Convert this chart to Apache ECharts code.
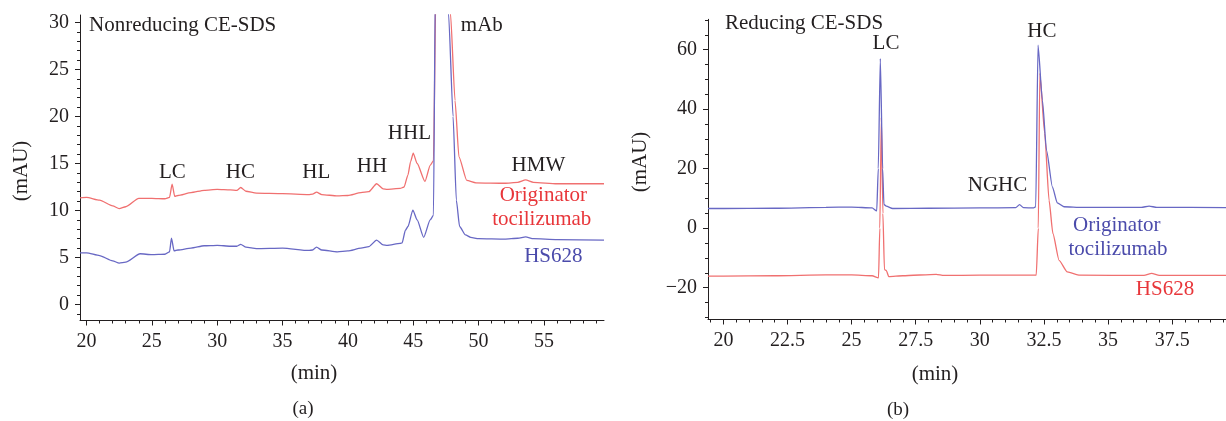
<!DOCTYPE html>
<html>
<head>
<meta charset="utf-8">
<script src="https://cdn.jsdelivr.net/npm/echarts@6/dist/echarts.min.js"></script>
<style>
html,body{margin:0;padding:0;background:#fff;}
#main{width:1226px;height:421px;}
</style>
</head>
<body>
<div id="main"></div>
<script>
// (a) Nonreducing CE-SDS — Originator tocilizumab (red) and HS628 (blue)
let nrOrigTime  = [19.5, 20, 21, 22, 22.5, 23, 24, 25, 26, 26.35, 26.55, 26.75, 27, 28, 29, 30, 31, 31.5, 31.8, 32.2, 33, 35, 37, 37.3, 37.6, 38, 39.2, 40, 41, 41.6, 42.2, 42.7, 43, 44, 44.3, 44.6, 44.8, 45.0, 45.3, 45.9, 46.3, 46.55, 46.75, 47.2, 47.85, 48.2, 48.5, 49.1, 49.8, 52, 53, 53.6, 54.2, 56, 59.6];
let nrOrigValue = [11.35, 11.4, 11.1, 10.5, 10.2, 10.4, 11.3, 11.3, 11.25, 11.4, 12.8, 11.5, 11.6, 11.9, 12.15, 12.25, 12.2, 12.15, 12.45, 12.05, 11.85, 11.8, 11.7, 11.75, 11.95, 11.7, 11.55, 11.6, 11.9, 12.0, 12.85, 12.3, 12.25, 12.35, 12.5, 13.8, 15.2, 16.1, 15.0, 13.1, 14.8, 15.3, 35, 200, 31, 21.7, 15.7, 13.2, 12.95, 12.9, 13.0, 13.25, 13.0, 12.85, 12.85];
let nrHsTime  = [19.5, 20, 21, 22, 22.5, 23, 24.1, 25, 26, 26.35, 26.5, 26.7, 27, 28, 29, 30, 31, 31.5, 31.8, 32.2, 33, 35, 37, 37.3, 37.6, 38, 39.2, 40, 41, 41.6, 42.2, 42.7, 43, 44, 44.15, 44.4, 44.6, 44.97, 45.3, 45.8, 46.3, 46.55, 46.7, 47.1, 47.7, 48.05, 48.3, 48.55, 49.0, 49.4, 50, 52, 53, 53.6, 54.2, 56, 59.6];
let nrHsValue = [5.5, 5.5, 5.2, 4.65, 4.4, 4.5, 5.4, 5.3, 5.35, 5.6, 7.05, 5.7, 5.8, 6.0, 6.25, 6.3, 6.2, 6.2, 6.4, 6.1, 5.95, 6.0, 5.75, 5.8, 6.1, 5.8, 5.6, 5.7, 6.0, 6.15, 6.85, 6.35, 6.3, 6.5, 6.55, 7.9, 8.3, 10.05, 9.0, 7.15, 9.0, 9.5, 35, 200, 31, 20, 11.1, 8.3, 7.4, 7.15, 7.0, 6.95, 7.05, 7.2, 7.0, 6.9, 6.85];

// (b) Reducing CE-SDS — Originator tocilizumab (blue) and HS628 (red)
let rOrigTime  = [19.4, 20, 22, 24, 25, 25.8, 25.98, 26.04, 26.12, 26.21, 26.26, 26.35, 26.6, 28, 30, 31.4, 31.55, 31.7, 32.1, 32.18, 32.27, 32.44, 32.6, 32.83, 33.02, 33.28, 34, 36.3, 36.6, 36.9, 39.6];
let rOrigValue = [6.6, 6.6, 6.7, 7.0, 7.1, 6.8, 5.8, 20, 57.0, 20, 8, 7.4, 6.6, 6.7, 6.8, 6.9, 7.9, 6.9, 6.8, 7.2, 61.5, 43, 26.2, 13.9, 8.5, 7.2, 7.0, 7.0, 7.4, 7.0, 6.9];
let rHsTime  = [19.4, 20, 22, 24, 25, 25.8, 26.05, 26.1, 26.16, 26.22, 26.28, 26.35, 26.45, 27, 28.3, 28.6, 30, 32.2, 32.28, 32.34, 32.53, 32.7, 32.85, 33.09, 33.41, 33.9, 36.4, 36.7, 37, 39.6];
let rHsValue = [-16.1, -16.1, -16.0, -15.7, -15.7, -16.0, -16.7, 0, 37.2, 5, -13.9, -14.2, -16.3, -16.0, -15.5, -15.9, -15.8, -15.8, 0, 52, 31.8, 9.4, -1.8, -10.8, -14.7, -15.8, -15.9, -15.2, -15.9, -15.9];

// tick labels
let nrXTicks = [20, 25, 30, 35, 40, 45, 50, 55];
let nrYTicks = [0, 5, 10, 15, 20, 25, 30];
let rXTicks = [20, 22.5, 25, 27.5, 30, 32.5, 35, 37.5];
let rYTicks = [-20, 0, 20, 40, 60];

// peak labels: [text, time, value, color]
let nrNotes = [
  ['LC', 26.57, 14.0, '#231f20'],
  ['HC', 31.77, 14.0, '#231f20'],
  ['HL', 37.58, 14.0, '#231f20'],
  ['HH', 41.84, 14.66, '#231f20'],
  ['HHL', 44.71, 18.2, '#231f20'],
  ['mAb', 50.25, 29.66, '#231f20'],
  ['HMW', 54.58, 14.74, '#231f20'],
  ['Originator', 54.96, 11.65, '#e8363a'],
  ['tocilizumab', 54.84, 9.0, '#e8363a'],
  ['HS628', 55.72, 5.09, '#4b4bab']
];
let rNotes = [
  ['LC', 26.34, 62.1, '#231f20'],
  ['HC', 32.42, 66.0, '#231f20'],
  ['NGHC', 30.69, 14.5, '#231f20'],
  ['Originator', 35.34, 1.0, '#4b4bab'],
  ['tocilizumab', 35.39, -7.2, '#4b4bab'],
  ['HS628', 37.22, -20.6, '#e8363a']
];

const RED = '#f07070';
const BLUE = '#6868c4';
const INK = '#231f20';
const FONT = 'Liberation Serif';

function steps(a, b, s){
  let out = [];
  for(let v = a; v <= b + 1e-9; v += s) out.push(+v.toFixed(2));
  return out;
}
function pairs(t, v){
  return t.map((x, i) => [x, v[i]]);
}
function minus(v){
  return v < 0 ? '\u2212' + Math.abs(v) : String(v);
}

function majorAxis(grid, min, max, ticks, pos){
  return {
    type:'value', gridIndex:grid, min:min, max:max, position:pos,
    axisLine:{show:true, onZero:false, lineStyle:{color:INK, width:1}},
    axisTick:{show:true, length:5, customValues:ticks, lineStyle:{color:INK}},
    axisLabel:{show:true, customValues:ticks, margin:11, color:INK,
      fontFamily:FONT, fontSize:20, formatter:minus},
    splitLine:{show:false}
  };
}
function minorAxis(grid, min, max, ticks, pos){
  return {
    type:'value', gridIndex:grid, min:min, max:max, position:pos,
    axisLine:{show:false, onZero:false},
    axisTick:{show:true, length:3, customValues:ticks, lineStyle:{color:INK}},
    axisLabel:{show:false},
    splitLine:{show:false}
  };
}
function line(x, y, data, color){
  return {
    type:'line', xAxisIndex:x, yAxisIndex:y, data:data,
    symbol:'none', clip:true, silent:true,
    smooth:0.2, smoothMonotone:'x',
    lineStyle:{color:color, width:1.3}
  };
}

let chart = echarts.init(document.getElementById('main'));

chart.setOption({
  animation:false,
  backgroundColor:'#fff',
  grid:[
    {left:80, top:15, width:524, height:305.5, outerBoundsMode:'none'},
    {left:708, top:19.3, width:518, height:300.2, outerBoundsMode:'none'}
  ],
  xAxis:[
    majorAxis(0, 19.5, 59.6, nrXTicks, 'bottom'),
    minorAxis(0, 19.5, 59.6, steps(20, 59, 1), 'bottom'),
    majorAxis(1, 19.4, 39.6, rXTicks, 'bottom'),
    minorAxis(1, 19.4, 39.6, steps(19.5, 39.5, 0.5), 'bottom')
  ],
  yAxis:[
    majorAxis(0, -1.7, 30.8, nrYTicks, 'left'),
    minorAxis(0, -1.7, 30.8, steps(-1, 30, 1), 'left'),
    majorAxis(1, -30.7, 70.2, rYTicks, 'left'),
    minorAxis(1, -30.7, 70.2, steps(-30, 70, 5), 'left')
  ],
  series:[
    line(0, 0, pairs(nrOrigTime, nrOrigValue), RED),
    line(0, 0, pairs(nrHsTime, nrHsValue), BLUE),
    line(2, 2, pairs(rHsTime, rHsValue), RED),
    line(2, 2, pairs(rOrigTime, rOrigValue), BLUE)
  ]
});

function txt(x, y, s, color, opts){
  return Object.assign({
    type:'text', x:x, y:y, silent:true,
    style:Object.assign({text:s, fill:color || INK, font:'21px "' + FONT + '"',
      align:'center', verticalAlign:'middle'}, (opts && opts.style) || {})
  }, (opts && opts.el) || {});
}

let g = [];
nrNotes.forEach(n => {
  let p = chart.convertToPixel({gridIndex:0}, [n[1], n[2]]);
  g.push(txt(p[0], p[1], n[0], n[3]));
});
rNotes.forEach(n => {
  let p = chart.convertToPixel({gridIndex:1}, [n[1], n[2]]);
  g.push(txt(p[0], p[1], n[0], n[3]));
});
// panel titles, axis names, captions
g.push(txt(89, 25, 'Nonreducing CE-SDS', INK, {style:{align:'left'}}));
g.push(txt(725, 23, 'Reducing CE-SDS', INK, {style:{align:'left'}}));
g.push(txt(314, 373, '(min)'));
g.push(txt(935, 374, '(min)'));
g.push(txt(21, 171, '(mAU)', INK, {el:{rotation:Math.PI / 2}}));
g.push(txt(640, 162, '(mAU)', INK, {el:{rotation:Math.PI / 2}}));
g.push(txt(303, 409, '(a)', INK, {style:{font:'19px "' + FONT + '"'}}));
g.push(txt(898, 410, '(b)', INK, {style:{font:'19px "' + FONT + '"'}}));

chart.setOption({graphic:g});
</script>
</body>
</html>
